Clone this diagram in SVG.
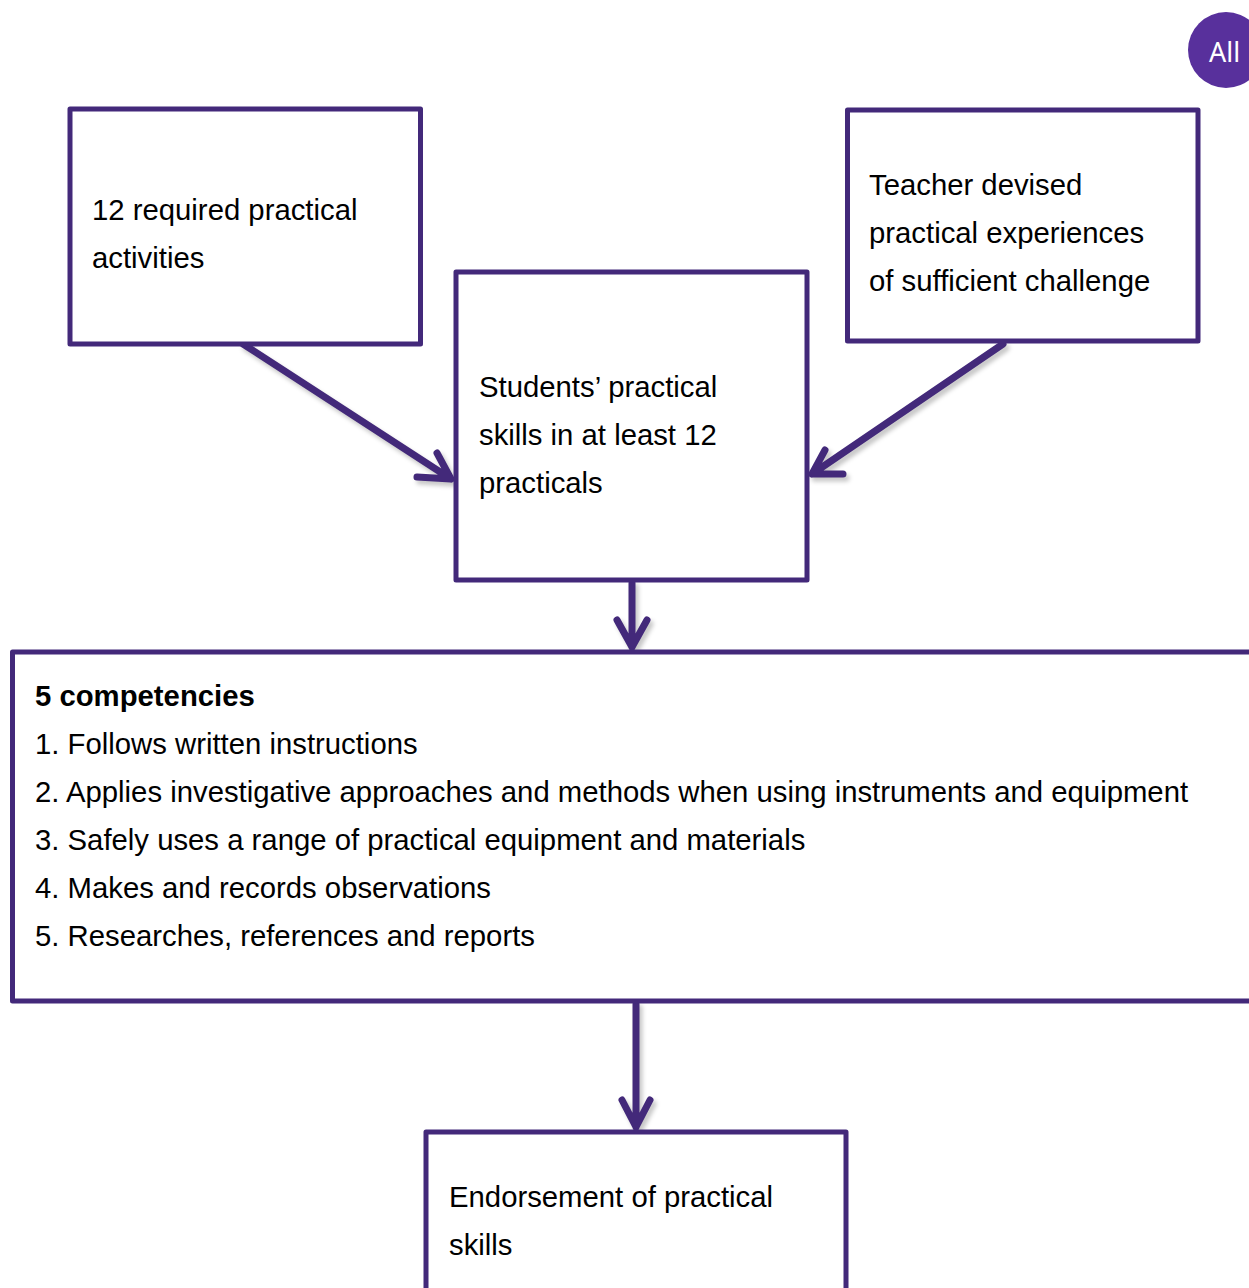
<svg xmlns="http://www.w3.org/2000/svg" width="1249" height="1288" viewBox="0 0 1249 1288">
  <defs>
    <style>
      .box { fill: #ffffff; stroke: #43297a; stroke-width: 5; stroke-linejoin: round; }
      .txt { font-family: "Liberation Sans", Arial, sans-serif; font-size: 29.3px; fill: #000000; }
      .bold { font-weight: bold; }
      .conn { fill: none; stroke: #43297a; stroke-width: 7; stroke-linecap: round; stroke-linejoin: round; }
      .shadow { fill: none; stroke: #000000; stroke-opacity: 0.22; stroke-width: 7; stroke-linecap: round; stroke-linejoin: round; }
    </style>
    <filter id="blur" x="-20%" y="-20%" width="140%" height="140%">
      <feGaussianBlur stdDeviation="2"/>
    </filter>
  </defs>
  <rect width="1249" height="1288" fill="#ffffff"/>

  <g id="badge-all">
    <circle cx="1226" cy="50" r="38" fill="#58309c"/>
    <text x="1209" y="62" font-family="'Noto Sans', 'Open Sans', sans-serif" font-size="27" fill="#ffffff">All</text>
  </g>

  <g id="connectors">
    <g filter="url(#blur)" transform="translate(3,4)">
      <path class="shadow" d="M243,344 L451,479 M417,477 L451,479 L437,453"/>
      <path class="shadow" d="M1003,344 L812,474 M843,474 L812,474 L825,450"/>
      <path class="shadow" d="M632,583 L632,647 M617,620 L632,647 L647,620"/>
      <path class="shadow" d="M636,1004 L636,1127 M622,1100 L636,1127 L650,1100"/>
    </g>
    <path class="conn" d="M243,344 L451,479 M417,477 L451,479 L437,453"/>
    <path class="conn" d="M1003,344 L812,474 M843,474 L812,474 L825,450"/>
    <path class="conn" d="M632,583 L632,647 M617,620 L632,647 L647,620"/>
    <path class="conn" d="M636,1004 L636,1127 M622,1100 L636,1127 L650,1100"/>
  </g>

  <g id="node-required">
    <rect class="box" x="70" y="109" width="350.500" height="235"/>
    <text class="txt" x="92" y="220">12 required practical</text>
    <text class="txt" x="92" y="268">activities</text>
  </g>

  <g id="node-teacher">
    <rect class="box" x="847.500" y="110" width="350.500" height="231"/>
    <text class="txt" x="869" y="194.500">Teacher devised</text>
    <text class="txt" x="869" y="242.500">practical experiences</text>
    <text class="txt" x="869" y="290.500">of sufficient challenge</text>
  </g>

  <g id="node-students">
    <rect class="box" x="456" y="272" width="351" height="308"/>
    <text class="txt" x="479" y="396.500">Students’ practical</text>
    <text class="txt" x="479" y="444.500">skills in at least 12</text>
    <text class="txt" x="479" y="492.500">practicals</text>
  </g>

  <g id="node-competencies">
    <rect class="box" x="12.500" y="652" width="1250" height="349"/>
    <text class="txt bold" x="35" y="706">5 competencies</text>
    <text class="txt" x="35" y="754">1. Follows written instructions</text>
    <text class="txt" x="35" y="802">2. Applies investigative approaches and methods when using instruments and equipment</text>
    <text class="txt" x="35" y="850">3. Safely uses a range of practical equipment and materials</text>
    <text class="txt" x="35" y="898">4. Makes and records observations</text>
    <text class="txt" x="35" y="946">5. Researches, references and reports</text>
  </g>

  <g id="node-endorsement">
    <rect class="box" x="426" y="1132" width="420" height="170"/>
    <text class="txt" x="449" y="1207">Endorsement of practical</text>
    <text class="txt" x="449" y="1255">skills</text>
  </g>
</svg>
